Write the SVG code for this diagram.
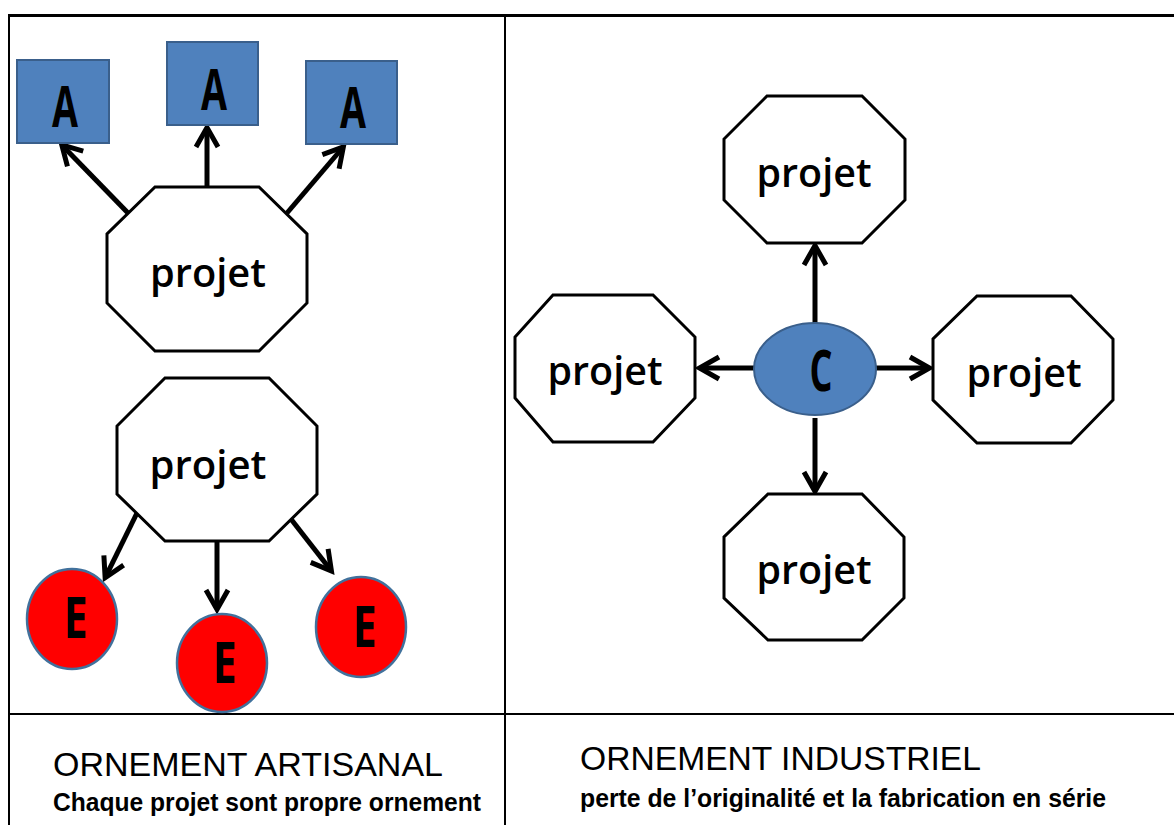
<svg xmlns="http://www.w3.org/2000/svg" width="1174" height="825" viewBox="0 0 1174 825">
<style>
.oct{fill:#fff;stroke:#000;stroke-width:3}
.sq{fill:#4F81BD;stroke:#3A5F8B;stroke-width:2}
.red{fill:#FF0000;stroke:#41719C;stroke-width:2.5}
.cir{fill:#4F81BD;stroke:#3A5F8B;stroke-width:2}
.pj{font-family:"Open Sans","Noto Sans",sans-serif;font-weight:600;font-size:40px;fill:#000;text-anchor:middle}
.big{font-family:"Open Sans","Noto Sans",sans-serif;font-weight:700;font-size:57px;fill:#000;text-anchor:middle}
.t1{font-family:"Liberation Sans",Arial,sans-serif;font-size:33px;fill:#000}
.t2{font-family:"Liberation Sans",Arial,sans-serif;font-weight:700;font-size:25px;fill:#000}
.ln{stroke:#000;fill:none}
.ar{stroke:#000;stroke-width:5;fill:none;marker-end:url(#head)}
</style>
<defs>
<marker id="head" markerUnits="userSpaceOnUse" markerWidth="40" markerHeight="40" viewBox="-20 -20 40 40" refX="0" refY="0" orient="auto" overflow="visible">
<path d="M-18,-11 L1.5,0 L-18,11" fill="none" stroke="#000" stroke-width="5" stroke-linejoin="miter"/>
</marker>
</defs>
<rect width="1174" height="825" fill="#fff"/>
<g id="frame">
<line class="ln" x1="8" y1="15.5" x2="1174" y2="15.5" stroke-width="3"/>
<line class="ln" x1="9" y1="14" x2="9" y2="825" stroke-width="2"/>
<line class="ln" x1="505" y1="15" x2="505" y2="825" stroke-width="2"/>
<line class="ln" x1="9" y1="714" x2="1174" y2="714" stroke-width="2"/>
</g>
<g id="connectors">
<line class="ar" x1="128" y1="213" x2="62.8" y2="145.9"/>
<line class="ar" x1="207" y1="187" x2="207" y2="129"/>
<line class="ar" x1="287" y1="213" x2="342.4" y2="148"/>
<line class="ar" x1="137" y1="513" x2="105.8" y2="576.4"/>
<line class="ar" x1="217" y1="541" x2="217" y2="608"/>
<line class="ar" x1="287" y1="514" x2="330.5" y2="569.8"/>
<line class="ar" x1="815" y1="323" x2="815" y2="247"/>
<line class="ar" x1="754" y1="368" x2="701" y2="368"/>
<line class="ar" x1="876" y1="368" x2="928" y2="368"/>
<line class="ar" x1="815" y1="418" x2="815" y2="490"/>
</g>
<g id="A1"><rect class="sq" x="17" y="60" width="92" height="83"/><text class="big" x="65" y="127" textLength="26" lengthAdjust="spacingAndGlyphs">A</text></g>
<g id="A2"><rect class="sq" x="167" y="42" width="91" height="83"/><text class="big" x="214" y="110" textLength="26" lengthAdjust="spacingAndGlyphs">A</text></g>
<g id="A3"><rect class="sq" x="306" y="61" width="91" height="83"/><text class="big" x="353" y="128" textLength="26" lengthAdjust="spacingAndGlyphs">A</text></g>
<g id="projet-tl"><polygon class="oct" points="155,187 259,187 307,234 307,303 259,351 155,351 107,303 107,234"/><text class="pj" x="208" y="287" textLength="116" lengthAdjust="spacingAndGlyphs">projet</text></g>
<g id="projet-bl"><polygon class="oct" points="165,378 269,378 317,426 317,494 269,541 165,541 117,494 117,426"/><text class="pj" x="208" y="479" textLength="117" lengthAdjust="spacingAndGlyphs">projet</text></g>
<g id="E1"><ellipse class="red" cx="72" cy="619" rx="45" ry="50"/><text class="big" x="76" y="638" textLength="24" lengthAdjust="spacingAndGlyphs">E</text></g>
<g id="E2"><ellipse class="red" cx="222" cy="663" rx="45" ry="49"/><text class="big" x="225" y="683" textLength="24" lengthAdjust="spacingAndGlyphs">E</text></g>
<g id="E3"><ellipse class="red" cx="361" cy="627" rx="45" ry="50"/><text class="big" x="365" y="647" textLength="24" lengthAdjust="spacingAndGlyphs">E</text></g>
<g id="projet-top"><polygon class="oct" points="767,96 862,96 905,139 905,200 862,243 767,243 724,200 724,139"/><text class="pj" x="814" y="187" textLength="115" lengthAdjust="spacingAndGlyphs">projet</text></g>
<g id="projet-left"><polygon class="oct" points="553,295 653,295 695,337 695,398 653,442 553,442 515,398 515,337"/><text class="pj" x="605" y="385" textLength="115" lengthAdjust="spacingAndGlyphs">projet</text></g>
<g id="projet-right"><polygon class="oct" points="977,296 1071,296 1113,339 1113,400 1071,443 977,443 933,400 933,339"/><text class="pj" x="1024" y="387" textLength="115" lengthAdjust="spacingAndGlyphs">projet</text></g>
<g id="projet-bottom"><polygon class="oct" points="768,494 862,494 904,537 904,598 862,640 768,640 724,598 724,537"/><text class="pj" x="814" y="584" textLength="115" lengthAdjust="spacingAndGlyphs">projet</text></g>
<g id="C"><ellipse class="cir" cx="815" cy="369" rx="61" ry="46"/><text class="big" x="821" y="391" textLength="23" lengthAdjust="spacingAndGlyphs">C</text></g>
<g id="captions">
<text class="t1" x="53" y="776" textLength="390" lengthAdjust="spacingAndGlyphs">ORNEMENT ARTISANAL</text>
<text class="t2" x="53" y="811" textLength="428" lengthAdjust="spacingAndGlyphs">Chaque projet sont propre ornement</text>
<text class="t1" x="580" y="770" textLength="401" lengthAdjust="spacingAndGlyphs">ORNEMENT INDUSTRIEL</text>
<text class="t2" x="580" y="807" textLength="526" lengthAdjust="spacingAndGlyphs">perte de l’originalité et la fabrication en série</text>
</g>
</svg>
